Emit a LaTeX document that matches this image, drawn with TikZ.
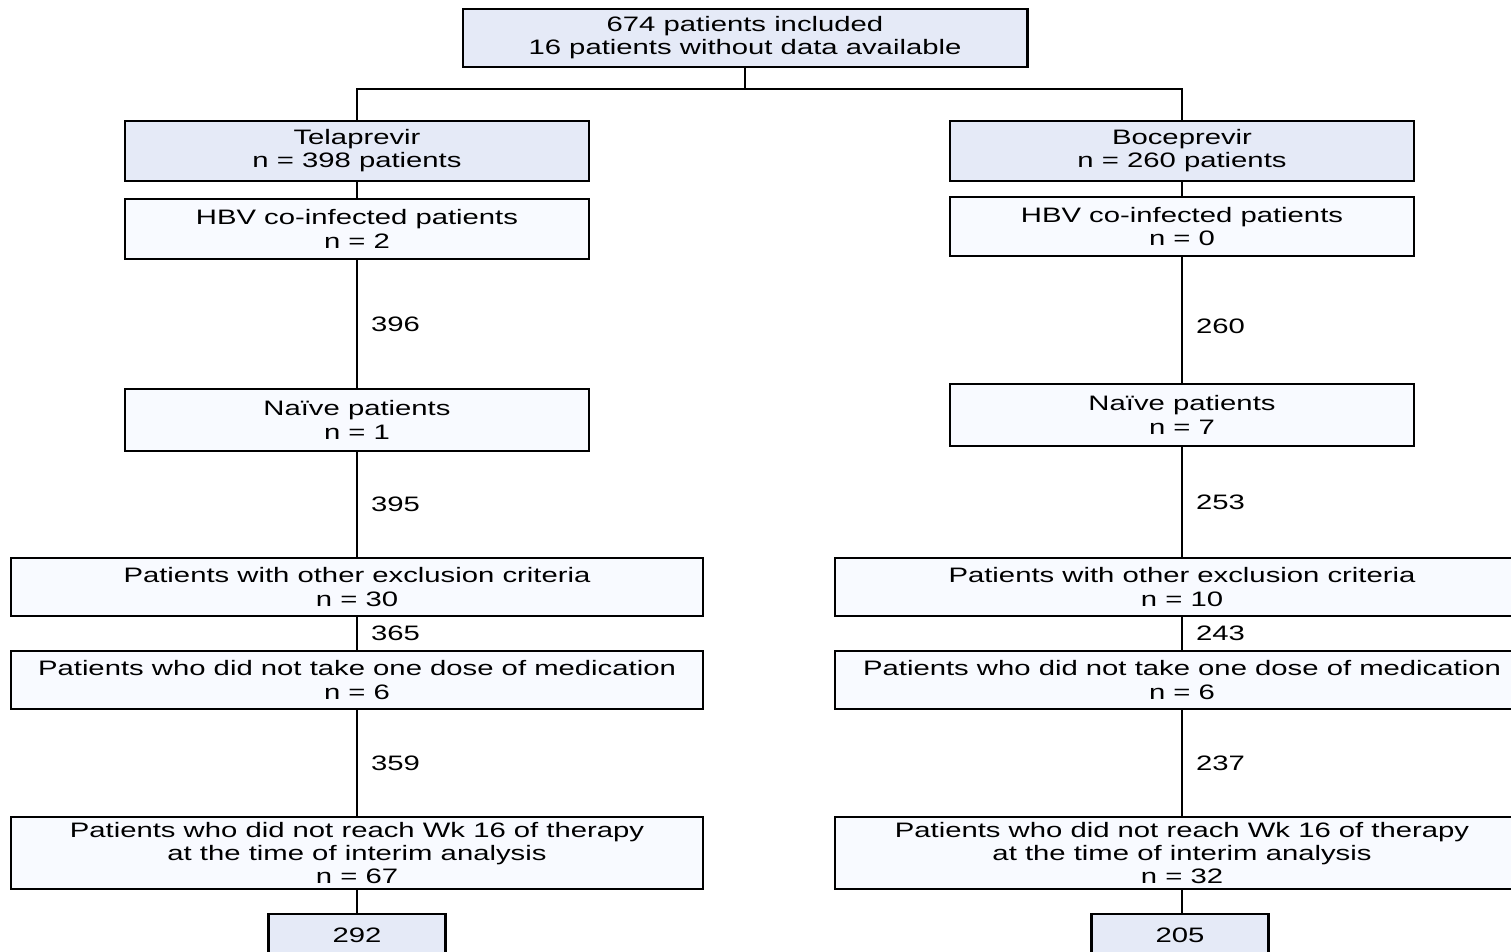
\documentclass[tikz,border=0pt]{standalone}
\usepackage{fontspec}
\setmainfont[FakeStretch=1.4]{Liberation Sans}
\usepackage{xcolor}
\usepackage{tikz}

\definecolor{boxblue}{RGB}{229,234,247}
\definecolor{boxwhite}{RGB}{248,250,255}

\tikzset{
    box/.style={draw, line width=1.2pt, align=center, inner sep=0pt,
        font=\fontsize{11.9}{13.2}\selectfont, yshift=-0.03cm},
    bluebox/.style={box, fill=boxblue},
    whitebox/.style={box, fill=boxwhite},
    num/.style={anchor=west, inner sep=0pt, xshift=0.26cm,
        font=\fontsize{11.9}{13.2}\selectfont},
    link/.style={line width=1.2pt}
}

\begin{document}
\begin{tikzpicture}[x=0.02cm, y=-0.02cm]
                \useasboundingbox (0,0) rectangle (1511,952);
                \clip (0,0) rectangle (1511,952);

                \node[bluebox, minimum width=11.3cm, minimum height=1.16cm] (top) at (745, 36.5) {674 patients included\\16 patients without data available};

                % Telaprevir
                \node[bluebox, minimum width=9.28cm, minimum height=1.2cm] (tela) at (357, 149.5) {Telaprevir\\n = 398 patients};
                \node[whitebox, minimum width=9.28cm, minimum height=1.2cm] (hbvL) at (357, 227.5) {HBV co-infected patients\\n = 2};
                \node[whitebox, minimum width=9.28cm, minimum height=1.24cm] (naiveL) at (357, 418.5) {Naïve patients\\n = 1};
                \node[whitebox, minimum width=13.86cm, minimum height=1.16cm] (exclL) at (357, 585.5) {Patients with other exclusion criteria\\n = 30};
                \node[whitebox, minimum width=13.86cm, minimum height=1.16cm] (doseL) at (357, 678.5) {Patients who did not take one dose of medication\\n = 6};
                \node[whitebox, minimum width=13.86cm, minimum height=1.44cm] (wkL) at (357, 851.5) {Patients who did not reach Wk 16 of therapy\\at the time of interim analysis\\n = 67};
                \node[bluebox, minimum width=3.54cm, minimum height=0.84cm] (resL) at (357, 933.5) {292};

                % Boceprevir
                \node[bluebox, minimum width=9.28cm, minimum height=1.2cm] (boce) at (1182, 149.5) {Boceprevir\\n = 260 patients};
                \node[whitebox, minimum width=9.28cm, minimum height=1.18cm] (hbvR) at (1182, 225) {HBV co-infected patients\\n = 0};
                \node[whitebox, minimum width=9.28cm, minimum height=1.24cm] (naiveR) at (1182, 413.5) {Naïve patients\\n = 7};
                \node[whitebox, minimum width=13.9cm, minimum height=1.16cm] (exclR) at (1182, 585.5) {Patients with other exclusion criteria\\n = 10};
                \node[whitebox, minimum width=13.9cm, minimum height=1.16cm] (doseR) at (1182, 678.5) {Patients who did not take one dose of medication\\n = 6};
                \node[whitebox, minimum width=13.9cm, minimum height=1.44cm] (wkR) at (1182, 851.5) {Patients who did not reach Wk 16 of therapy\\at the time of interim analysis\\n = 32};
                \node[bluebox, minimum width=3.54cm, minimum height=0.84cm] (resR) at (1180, 933.5) {205};

                \coordinate (jl) at (357, 89);
                \coordinate (jr) at (1182, 89);

                \draw[link] (top.south) -- (top.south |- jl);
                \draw[link] (tela.north) -- (jl) -- (jr) -- (boce.north);

                \draw[link] (tela) -- (hbvL);
                \draw[link] (hbvL) -- node[num] {396} (naiveL);
                \draw[link] (naiveL) -- node[num] {395} (exclL);
                \draw[link] (exclL) -- node[num] {365} (doseL);
                \draw[link] (doseL) -- node[num] {359} (wkL);
                \draw[link] (wkL) -- (resL.north -| wkL);

                \draw[link] (boce) -- (hbvR);
                \draw[link] (hbvR) -- node[num, pos=0.55] {260} (naiveR);
                \draw[link] (naiveR) -- node[num] {253} (exclR);
                \draw[link] (exclR) -- node[num] {243} (doseR);
                \draw[link] (doseR) -- node[num] {237} (wkR);
                \draw[link] (wkR) -- (resR.north -| wkR);
            \end{tikzpicture}
\end{document}
